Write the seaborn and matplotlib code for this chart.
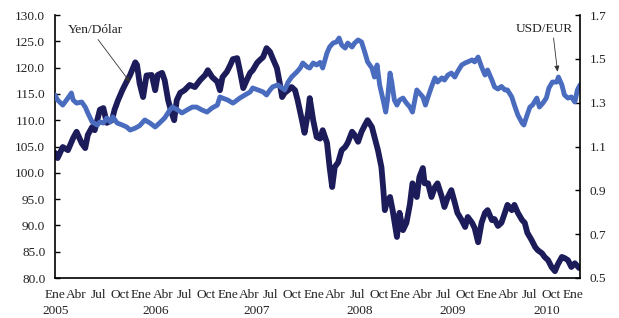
import matplotlib
matplotlib.use("Agg")
import matplotlib.pyplot as plt
import matplotlib.transforms as mtransforms
import seaborn as sns
import pandas as pd
import numpy as np

# ---------------- data (decimal years) ----------------
yen_t = [2005.00, 2005.03, 2005.09, 2005.15, 2005.21, 2005.25, 2005.31, 2005.35, 2005.38, 2005.43,
         2005.46, 2005.52, 2005.56, 2005.60, 2005.66, 2005.69, 2005.73, 2005.78, 2005.81, 2005.87,
         2005.93, 2005.95, 2005.98, 2006.02, 2006.06, 2006.12, 2006.16, 2006.19, 2006.24, 2006.27,
         2006.31, 2006.35, 2006.38, 2006.41, 2006.45, 2006.50, 2006.56, 2006.62, 2006.68, 2006.74,
         2006.77, 2006.82, 2006.88, 2006.91, 2006.94, 2006.99, 2007.03, 2007.06, 2007.11, 2007.14,
         2007.18, 2007.22, 2007.26, 2007.29, 2007.34, 2007.37, 2007.41, 2007.45, 2007.49, 2007.52,
         2007.57, 2007.60, 2007.63, 2007.66, 2007.70, 2007.74, 2007.78, 2007.81, 2007.86, 2007.89,
         2007.93, 2007.95, 2007.99, 2008.03, 2008.07, 2008.10, 2008.15, 2008.18, 2008.21, 2008.24,
         2008.28, 2008.32, 2008.36, 2008.39, 2008.44, 2008.47, 2008.51, 2008.55, 2008.59, 2008.62,
         2008.67, 2008.70, 2008.74, 2008.78, 2008.80, 2008.82, 2008.84, 2008.88, 2008.91, 2008.96,
         2008.99, 2009.03, 2009.07, 2009.11, 2009.14, 2009.19, 2009.22, 2009.26, 2009.28, 2009.32,
         2009.36, 2009.40, 2009.43, 2009.48, 2009.51, 2009.55, 2009.59, 2009.63, 2009.66, 2009.71,
         2009.75, 2009.78, 2009.83, 2009.86, 2009.90, 2009.94, 2009.98, 2010.01, 2010.06, 2010.09,
         2010.13, 2010.17, 2010.21, 2010.24, 2010.29, 2010.32, 2010.36, 2010.41, 2010.44, 2010.47,
         2010.52, 2010.56, 2010.59, 2010.64, 2010.67, 2010.71, 2010.75, 2010.79, 2010.82, 2010.87,
         2010.90, 2010.94, 2010.98, 2011.02, 2011.07]
yen_v = [103.8, 102.8, 104.9, 104.3, 106.6, 107.8, 105.6, 104.7, 107.2, 108.7,
         108.1, 112.0, 112.3, 109.5, 110.0, 112.0, 113.8, 115.7, 116.7, 118.6,
         121.0, 120.5, 117.0, 114.4, 118.5, 118.6, 115.7, 118.6, 119.0, 117.6,
         113.8, 111.4, 110.0, 113.8, 115.2, 115.7, 116.7, 116.3, 117.6, 118.6,
         119.5, 118.2, 117.3, 115.7, 118.2, 119.2, 120.5, 121.6, 121.8, 119.5,
         116.1, 117.6, 119.0, 119.5, 120.9, 121.4, 122.0, 123.7, 123.0, 121.8,
         119.9, 117.3, 114.4, 115.2, 115.7, 116.3, 115.7, 113.8, 110.0, 107.6,
         111.4, 114.2, 110.0, 106.8, 106.5, 108.1, 105.7, 101.1, 97.3, 101.1,
         102.0, 104.3, 104.9, 105.7, 107.8, 107.2, 105.9, 107.8, 109.1, 110.0,
         108.7, 106.8, 104.3, 101.1, 97.3, 92.9, 94.3, 95.4, 92.9, 87.8,
         92.4, 89.1, 90.5, 94.0, 98.0, 95.4, 99.2, 100.9, 98.0, 98.0,
         95.4, 97.3, 98.0, 95.4, 93.5, 95.4, 96.7, 94.3, 92.4, 91.0,
         89.7, 91.6, 90.5, 89.5, 86.8, 90.5, 92.4, 92.9, 91.0, 91.2,
         89.9, 90.5, 92.4, 93.9, 92.9, 93.9, 92.4, 91.0, 90.5, 88.6,
         87.2, 85.9, 85.3, 84.7, 84.0, 83.4, 82.1, 81.3, 82.5, 84.0,
         83.8, 83.4, 82.1, 82.8, 81.9]

eur_t = [2005.00, 2005.03, 2005.09, 2005.15, 2005.19, 2005.21, 2005.25, 2005.31, 2005.35, 2005.38,
         2005.43, 2005.49, 2005.52, 2005.56, 2005.60, 2005.64, 2005.67, 2005.72, 2005.78, 2005.83,
         2005.87, 2005.93, 2005.98, 2006.04, 2006.10, 2006.16, 2006.21, 2006.27, 2006.33, 2006.36,
         2006.42, 2006.47, 2006.53, 2006.59, 2006.64, 2006.70, 2006.76, 2006.82, 2006.88, 2006.91,
         2006.94, 2007.00, 2007.06, 2007.08, 2007.14, 2007.20, 2007.26, 2007.29, 2007.35, 2007.41,
         2007.45, 2007.49, 2007.52, 2007.58, 2007.63, 2007.66, 2007.70, 2007.74, 2007.80, 2007.84,
         2007.87, 2007.92, 2007.95, 2007.99, 2008.03, 2008.07, 2008.10, 2008.15, 2008.18, 2008.22,
         2008.26, 2008.29, 2008.32, 2008.36, 2008.39, 2008.44, 2008.47, 2008.51, 2008.55, 2008.59,
         2008.62, 2008.67, 2008.70, 2008.73, 2008.76, 2008.80, 2008.83, 2008.85, 2008.88, 2008.90,
         2008.93, 2008.96, 2008.99, 2009.03, 2009.07, 2009.11, 2009.14, 2009.19, 2009.22, 2009.26,
         2009.29, 2009.32, 2009.36, 2009.40, 2009.43, 2009.48, 2009.51, 2009.55, 2009.59, 2009.63,
         2009.66, 2009.71, 2009.75, 2009.78, 2009.83, 2009.86, 2009.90, 2009.94, 2009.98, 2010.01,
         2010.06, 2010.09, 2010.13, 2010.17, 2010.21, 2010.24, 2010.29, 2010.32, 2010.36, 2010.41,
         2010.43, 2010.46, 2010.50, 2010.53, 2010.58, 2010.61, 2010.65, 2010.69, 2010.72, 2010.76,
         2010.81, 2010.83, 2010.87, 2010.90, 2010.94, 2010.98, 2011.02, 2011.05, 2011.08]
eur_v = [1.335, 1.312, 1.289, 1.321, 1.344, 1.312, 1.298, 1.303, 1.280, 1.253,
         1.212, 1.198, 1.212, 1.207, 1.230, 1.212, 1.235, 1.207, 1.198, 1.189,
         1.175, 1.184, 1.195, 1.221, 1.207, 1.189, 1.207, 1.230, 1.267, 1.280,
         1.267, 1.253, 1.267, 1.280, 1.280, 1.267, 1.257, 1.276, 1.289, 1.326,
         1.321, 1.312, 1.298, 1.303, 1.321, 1.335, 1.349, 1.367, 1.358, 1.349,
         1.335, 1.358, 1.372, 1.381, 1.367, 1.358, 1.394, 1.417, 1.440, 1.458,
         1.481, 1.463, 1.458, 1.481, 1.472, 1.484, 1.458, 1.527, 1.554, 1.572,
         1.577, 1.595, 1.563, 1.549, 1.572, 1.554, 1.572, 1.586, 1.577, 1.527,
         1.486, 1.458, 1.417, 1.472, 1.381, 1.312, 1.257, 1.312, 1.435, 1.394,
         1.312, 1.289, 1.312, 1.321, 1.298, 1.280, 1.257, 1.358, 1.344, 1.326,
         1.289, 1.326, 1.372, 1.413, 1.394, 1.413, 1.403, 1.426, 1.435, 1.417,
         1.440, 1.472, 1.481, 1.486, 1.495, 1.486, 1.508, 1.463, 1.426, 1.449,
         1.403, 1.372, 1.362, 1.374, 1.358, 1.358, 1.326, 1.289, 1.244, 1.207,
         1.198, 1.235, 1.280, 1.289, 1.321, 1.280, 1.298, 1.321, 1.367, 1.394,
         1.394, 1.417, 1.381, 1.335, 1.321, 1.326, 1.303, 1.358, 1.381]

month_labels = ["Ene", "Abr", "Jul", "Oct"]
year_labels = ["2005", "2006", "2007", "2008", "2009", "2010"]
year_label_pos = [2005.01, 2006.17, 2007.34, 2008.53, 2009.60, 2010.70]
left_ticks = [80, 85, 90, 95, 100, 105, 110, 115, 120, 125, 130]
right_ticks = [0.5, 0.7, 0.9, 1.1, 1.3, 1.5, 1.7]

yen_df = pd.DataFrame({"t": yen_t, "v": yen_v})
eur_df = pd.DataFrame({"t": eur_t, "v": eur_v})

# ---------------- style ----------------
sns.set_theme(style="white")
plt.rcParams["font.family"] = ["Liberation Serif", "DejaVu Serif"]
FS = 9.6
plt.rcParams["font.size"] = FS

DARK = "#1c1c5a"
BLUE = "#4a6cbf"
TXT = "#222222"

fig = plt.figure(figsize=(6.19, 3.18), dpi=100)
ax = fig.add_axes([55 / 619, 1 - 278 / 318, (580 - 55) / 619, (278 - 15) / 318])
ax2 = ax.twinx()

sns.lineplot(data=yen_df, x="t", y="v", ax=ax, color=DARK, linewidth=4.2,
             estimator=None, sort=False, legend=False)
sns.lineplot(data=eur_df, x="t", y="v", ax=ax2, color=BLUE, linewidth=3.5,
             estimator=None, sort=False, legend=False)

ax.set_xlim(2005.0, 2011.08)
ax.set_ylim(80, 130)
ax2.set_ylim(0.5, 1.7)
ax.set_xlabel("")
ax.set_ylabel("")
ax2.set_ylabel("")

ax.set_yticks(left_ticks)
ax.set_yticklabels([f"{v:.1f}" for v in left_ticks], color=TXT)
ax2.set_yticks(right_ticks)
ax2.set_yticklabels([f"{v:.1f}" for v in right_ticks], color=TXT)

quarters = [2005 + 0.25 * i for i in range(25)]
ax.set_xticks(quarters)
ax.set_xticklabels([month_labels[i % 4] for i in range(25)], color=TXT)

for a in (ax, ax2):
    a.spines["top"].set_visible(False)
    for s in ("left", "right", "bottom"):
        a.spines[s].set_color("black")
        a.spines[s].set_linewidth(1.2)
ax.spines["right"].set_visible(False)
ax2.spines["left"].set_visible(False)
ax2.spines["bottom"].set_visible(False)

ax.tick_params(axis="y", direction="in", length=3.5, width=1, pad=7,
               colors="black", labelcolor=TXT, labelsize=FS)
ax.tick_params(axis="x", direction="in", length=3.5, width=1, pad=8,
               colors="black", labelcolor=TXT, labelsize=FS)
ax2.tick_params(axis="y", direction="in", length=3.5, width=1, pad=7,
                colors="black", labelcolor=TXT, labelsize=FS)

trans = mtransforms.blended_transform_factory(ax.transData, ax.transAxes)
for lab, pos in zip(year_labels, year_label_pos):
    ax.text(pos, -0.125, lab, transform=trans, ha="center", va="center",
            fontsize=FS, color=TXT)

ax.annotate("Yen/Dólar", xy=(2005.87, 117.2), xytext=(2005.47, 127.1),
            ha="center", va="center", fontsize=FS, color=TXT,
            arrowprops=dict(arrowstyle="-|>,head_length=0.35,head_width=0.15",
                            color="#333333", lw=0.6, relpos=(0.5, 0.0),
                            shrinkA=0, shrinkB=0))
ax.annotate("USD/EUR", xy=(2010.82, 119.2), xytext=(2010.67, 127.4),
            ha="center", va="center", fontsize=FS, color=TXT,
            arrowprops=dict(arrowstyle="-|>,head_length=0.35,head_width=0.15",
                            color="#333333", lw=0.6, relpos=(0.65, 0.0),
                            shrinkA=0, shrinkB=0))

fig.savefig("out.png", dpi=100)
